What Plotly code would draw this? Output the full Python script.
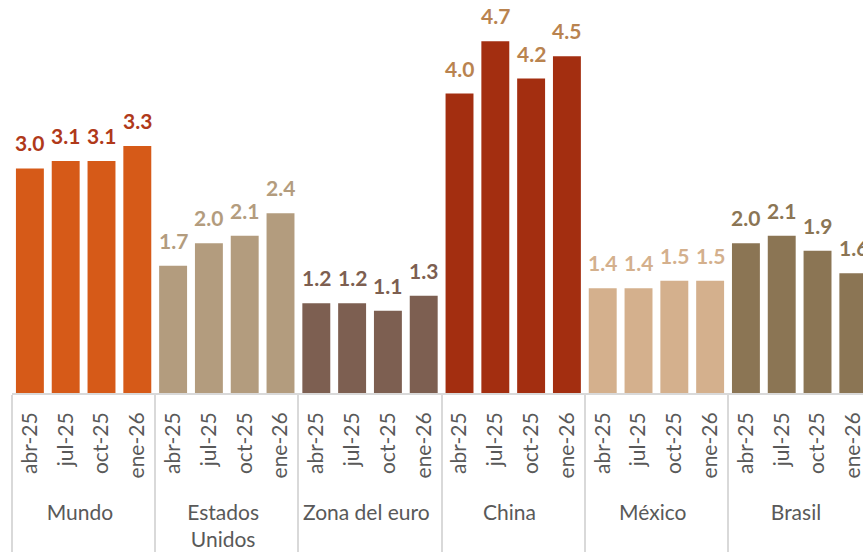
import plotly.graph_objects as go

# Growth forecasts by region and forecast vintage
regions = ["Mundo", "Estados<br>Unidos", "Zona del euro", "China", "México", "Brasil"]
vintages = ["abr-25", "jul-25", "oct-25", "ene-26"]
values = {
    "Mundo": [3.0, 3.1, 3.1, 3.3],
    "Estados<br>Unidos": [1.7, 2.0, 2.1, 2.4],
    "Zona del euro": [1.2, 1.2, 1.1, 1.3],
    "China": [4.0, 4.7, 4.2, 4.5],
    "México": [1.4, 1.4, 1.5, 1.5],
    "Brasil": [2.0, 2.1, 1.9, 1.6],
}
bar_colors = {
    "Mundo": "#D65A18",
    "Estados<br>Unidos": "#B39C7E",
    "Zona del euro": "#7D5F51",
    "China": "#A32E10",
    "México": "#D4B08D",
    "Brasil": "#8B7554",
}
label_colors = {
    "Mundo": "#B0391A",
    "Estados<br>Unidos": "#B39C7E",
    "Zona del euro": "#7D5F51",
    "China": "#B9834F",
    "México": "#D4B08D",
    "Brasil": "#8B7554",
}

FONT = "Lato"
# leading no-break spaces give the rotated vintage labels a little extra
# room below, which pushes the region row further down
PAD = "\u00a0\u00a0"

x_outer, x_inner, y_vals, colors = [], [], [], []
for r in regions:
    for v, val in zip(vintages, values[r]):
        x_outer.append(r)
        x_inner.append(PAD + v)
        y_vals.append(val)
        colors.append(bar_colors[r])

fig = go.Figure(
    go.Bar(
        x=[x_outer, x_inner],
        y=y_vals,
        marker=dict(color=colors, line=dict(width=0)),
        hoverinfo="skip",
    )
)

# value labels above each bar
annotations = []
for i, (r, val) in enumerate(zip(x_outer, y_vals)):
    annotations.append(
        dict(
            x=i,
            y=val,
            xref="x",
            yref="y",
            text=f"{val:.1f}",
            showarrow=False,
            yanchor="bottom",
            yshift=11,
            font=dict(family=FONT, size=21, color=label_colors[r], weight="bold"),
        )
    )

fig.update_layout(
    width=863,
    height=554,
    margin=dict(l=12, r=0, t=0, b=161),
    paper_bgcolor="white",
    plot_bgcolor="white",
    showlegend=False,
    bargap=0.22,
    annotations=annotations,
    xaxis=dict(
        type="multicategory",
        range=[-0.5, 23.27],
        automargin=False,
        showline=True,
        linecolor="#D9D9D9",
        linewidth=2,
        showgrid=False,
        ticks="",
        tickangle=-90,
        ticklabelstandoff=9,
        tickfont=dict(family=FONT, size=21, color="#595959"),
        showdividers=True,
        dividercolor="#D9D9D9",
        dividerwidth=2,
    ),
    yaxis=dict(
        range=[0, 5.25],
        visible=False,
        showgrid=False,
        zeroline=False,
        automargin=False,
    ),
)

fig.write_html("out.html")
